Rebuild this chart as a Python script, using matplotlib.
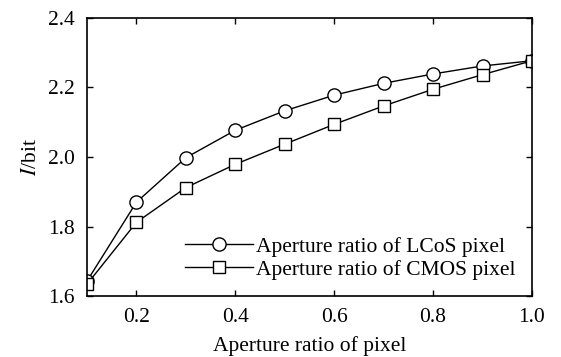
import matplotlib
matplotlib.use("Agg")
import matplotlib.pyplot as plt

x = [0.1, 0.2, 0.3, 0.4, 0.5, 0.6, 0.7, 0.8, 0.9, 1.0]
lcos = [1.643, 1.870, 1.998, 2.077, 2.133, 2.178, 2.212, 2.239, 2.262, 2.277]
cmos = [1.634, 1.812, 1.912, 1.979, 2.037, 2.094, 2.147, 2.195, 2.237, 2.277]
xticks = [0.2, 0.4, 0.6, 0.8, 1.0]
yticks = [1.6, 1.8, 2.0, 2.2, 2.4]

plt.rcParams['font.family'] = ['Liberation Serif', 'DejaVu Serif']
plt.rcParams['mathtext.fontset'] = 'stix'

FS = 15.5
fig = plt.figure(figsize=(5.61, 3.57), dpi=100)
ax = fig.add_axes([87/561, 1 - 296/357, (532-87)/561, (296-18)/357])

ax.plot(x, lcos, color='black', lw=1.0, marker='o', markersize=9.5,
        markerfacecolor='white', markeredgecolor='black', markeredgewidth=1.0,
        label='Aperture ratio of LCoS pixel')
ax.plot(x, cmos, color='black', lw=1.0, marker='s', markersize=8.5,
        markerfacecolor='white', markeredgecolor='black', markeredgewidth=1.0,
        label='Aperture ratio of CMOS pixel')

ax.set_xlim(0.1, 1.0)
ax.set_ylim(1.6, 2.4)
ax.set_xticks(xticks)
ax.set_xticklabels([f"{v:.1f}" for v in xticks])
ax.set_yticks(yticks)
ax.set_yticklabels([f"{v:.1f}" for v in yticks])
ax.tick_params(direction='in', top=True, right=True, length=4, width=1.0,
               labelsize=FS, pad=9)
for s in ax.spines.values():
    s.set_linewidth(1.2)

ax.set_xlabel('Aperture ratio of pixel', fontsize=FS, labelpad=6)
ax.set_ylabel(r'$I$/bit', fontsize=FS, labelpad=5)

ax.legend(loc='lower right', frameon=False, fontsize=FS, handlelength=3.15,
          handletextpad=0.15, borderaxespad=0.35, labelspacing=0.15)

fig.savefig('out.png', dpi=100)
